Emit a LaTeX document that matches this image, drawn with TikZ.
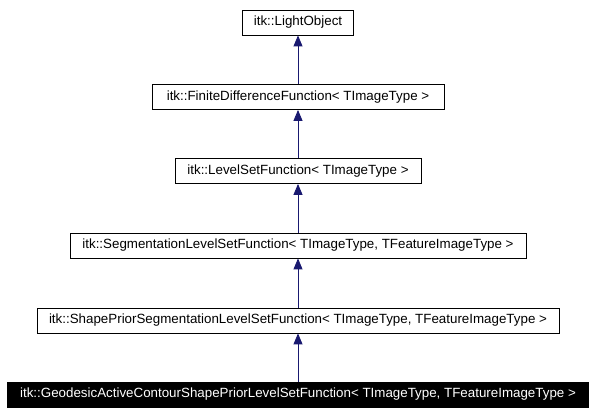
\documentclass[tikz,border=0pt]{standalone}
\usepackage{fontspec}
\setmainfont{Liberation Sans}
\usetikzlibrary{arrows.meta}
\definecolor{edgeblue}{RGB}{25,25,112}
\begin{document}
\begin{tikzpicture}[x=1bp,y=-1bp,
  cls/.style={draw=black,line width=0.8bp,inner sep=0pt,minimum height=25bp,font=\fontsize{13.4}{15}\selectfont,text=black},
  cur/.style={cls,fill=black,text=white},
  inh/.style={edgeblue,line width=0.9bp,{Triangle[length=11bp,width=9bp]}-}]
\useasboundingbox (0,0) rectangle (596,415);
\node[cls,minimum width=111bp] (lo) at (298,22.5) {itk::LightObject};
\node[cls,minimum width=292bp] (fdf) at (298,97) {itk::FiniteDifferenceFunction< TImageType >};
\node[cls,minimum width=246bp] (lsf) at (298,171) {itk::LevelSetFunction< TImageType >};
\node[cls,minimum width=456bp] (slsf) at (298,245.5) {itk::SegmentationLevelSetFunction< TImageType, TFeatureImageType >};
\node[cls,minimum width=522bp] (sp) at (298,320.5) {itk::ShapePriorSegmentationLevelSetFunction< TImageType, TFeatureImageType >};
\node[cur,minimum width=581bp] (gac) at (298,394.5) {itk::GeodesicActiveContourShapePriorLevelSetFunction< TImageType, TFeatureImageType >};
\draw[inh] (lo) -- (fdf);
\draw[inh] (fdf) -- (lsf);
\draw[inh] (lsf) -- (slsf);
\draw[inh] (slsf) -- (sp);
\draw[inh] (sp) -- (gac);
\end{tikzpicture}
\end{document}
